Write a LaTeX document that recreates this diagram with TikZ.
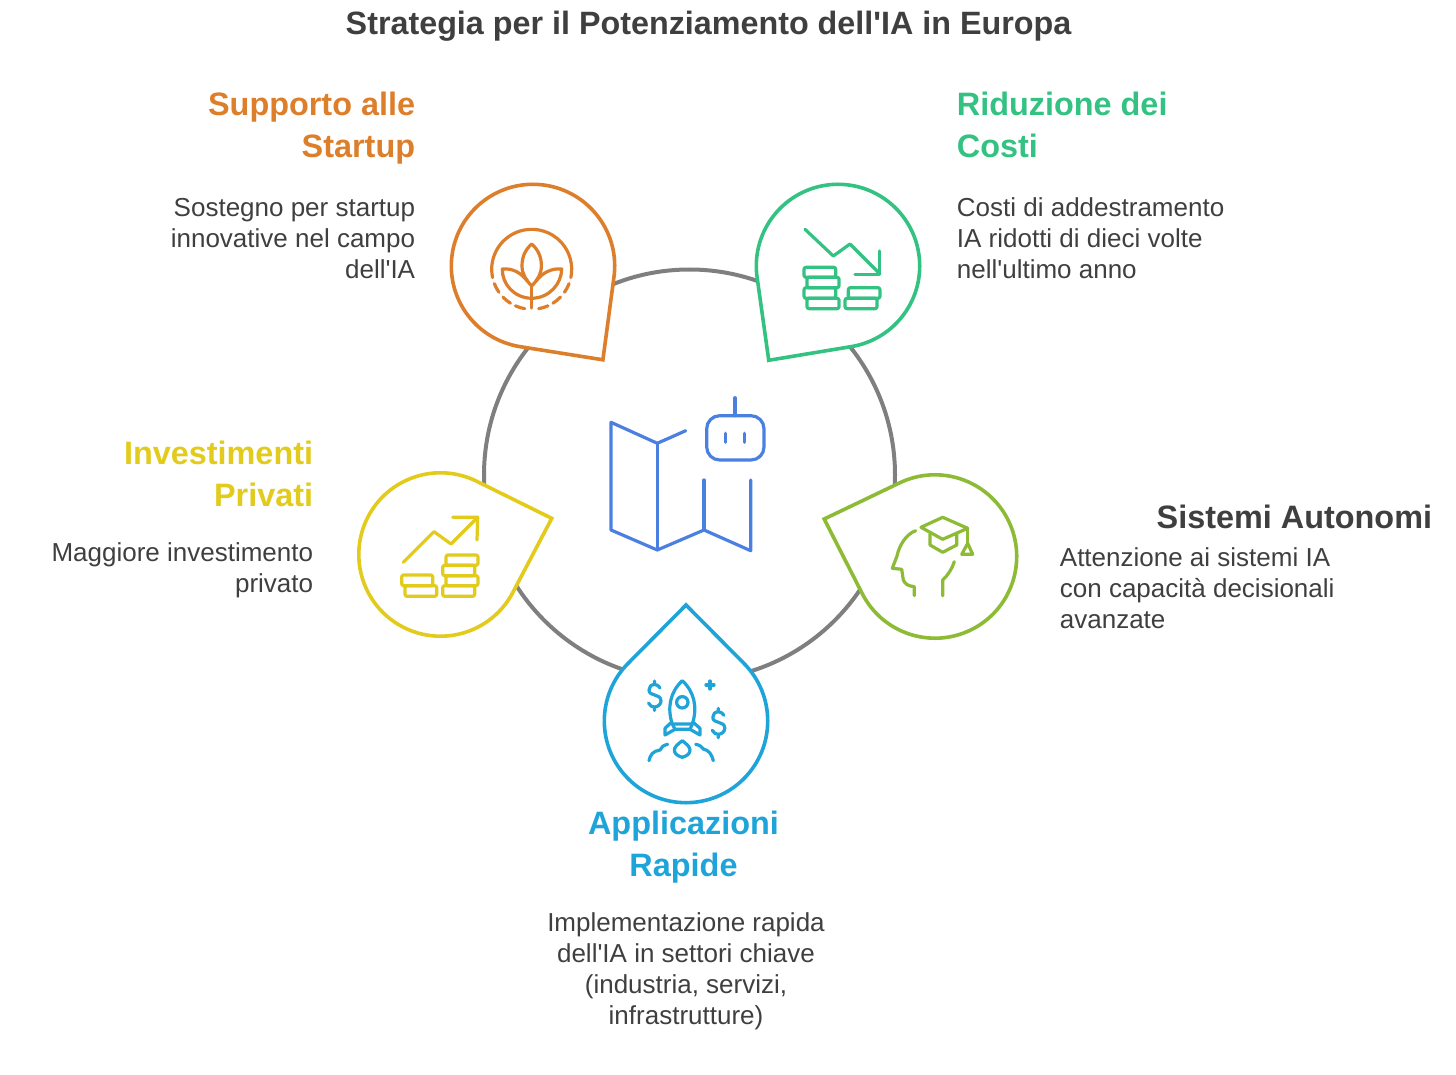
\documentclass[tikz,border=0pt]{standalone}
\usepackage{fontspec}
\setmainfont{Liberation Sans}
\definecolor{startupcol}{HTML}{DD7E2B}
\definecolor{costicol}{HTML}{34C283}
\definecolor{privaticol}{HTML}{E2CB1B}
\definecolor{autonomicol}{HTML}{8DBB35}
\definecolor{rapidecol}{HTML}{1EA4D9}
\definecolor{mapcol}{HTML}{4B80E0}
\definecolor{ringcol}{HTML}{7F7F7F}
\definecolor{textcol}{HTML}{3F3F3F}
\tikzset{
	pinline/.style = {line width = 1.8pt, fill = white},
	iconline/.style = {line width = 1.6pt, line cap = round, line join = round},
	coinbox/.style = {iconline, rounded corners = 1pt},
	titletext/.style = {font = \bfseries\fontsize{16.15}{20}\selectfont, text = textcol, inner sep = 0pt},
	headtext/.style = {font = \bfseries\fontsize{16.2}{20.75}\selectfont, inner sep = 0pt},
	bodytext/.style = {font = \fontsize{13}{15.5}\selectfont, text = textcol, inner sep = 0pt}
}
\begin{document}
\begin{tikzpicture}[x = 0.5pt, y = 0.5pt, yscale = -1]
	\useasboundingbox (0, 0) rectangle (1456, 1075);
	% title
	\node[titletext] (title) at (708.5, 26) {Strategia per il Potenziamento dell\textquotesingle IA in Europa};
	% the ring
	\draw[ringcol, line width = 2pt] (689.5, 475) circle (205.5);
	% the five pins
	\draw[startupcol, pinline, shift = {(533, 266)}, rotate = 53.3] (0:117) -- (45:81.7) arc[start angle = 45, end angle = 315, radius = 81.7] -- cycle;
	\draw[costicol, pinline, shift = {(838, 266)}, rotate = 126.3] (0:117) -- (45:81.7) arc[start angle = 45, end angle = 315, radius = 81.7] -- cycle;
	\draw[privaticol, pinline, shift = {(440.5, 554.5)}, rotate = -18] (0:117) -- (45:81.7) arc[start angle = 45, end angle = 315, radius = 81.7] -- cycle;
	\draw[autonomicol, pinline, shift = {(935, 556.5)}, rotate = -161.3] (0:117) -- (45:81.7) arc[start angle = 45, end angle = 315, radius = 81.7] -- cycle;
	\draw[rapidecol, pinline, shift = {(686, 721)}, rotate = -90] (0:116) -- (45:81.7) arc[start angle = 45, end angle = 315, radius = 81.7] -- cycle;
	% map and robot in the middle
	\draw[iconline, mapcol] (685.7, 430.7) -- (657.3, 443.3) -- (611, 422.3) -- (611, 530) -- (657.3, 550) -- (704, 530) -- (750.7, 550.7) -- (750.7, 480);
	\draw[iconline, mapcol] (657.3, 443.3) -- (657.3, 550);
	\draw[iconline, mapcol] (704, 530) -- (704, 480);
	\draw[iconline, mapcol, rounded corners = 6.5pt] (706.7, 415.7) rectangle (764, 460);
	\draw[iconline, mapcol] (735, 397.7) -- (735, 415.7);
	\draw[iconline, mapcol] (725.7, 433.3) -- (725.7, 442.3);
	\draw[iconline, mapcol] (744.7, 433.3) -- (744.7, 442.3);
	% plant
	\draw[iconline, startupcol] (531.7, 269.3) ++(168:40) arc[start angle = 168, end angle = 372, radius = 40];
	\draw[iconline, startupcol, shift = {(531.7, 269.3)}] (159:40) arc[start angle = 159, end angle = 145, radius = 40] (136:40) arc[start angle = 136, end angle = 122, radius = 40] (114:40) arc[start angle = 114, end angle = 100, radius = 40] (21:40) arc[start angle = 21, end angle = 35, radius = 40] (44:40) arc[start angle = 44, end angle = 58, radius = 40] (66:40) arc[start angle = 66, end angle = 80, radius = 40];
	\draw[iconline, startupcol] (531.7, 244) .. controls (525, 250) and (522, 257) .. (522, 266) .. controls (522, 274) and (526, 280) .. (531.7, 286) .. controls (537.4, 280) and (541.4, 274) .. (541.4, 266) .. controls (541.4, 257) and (538.4, 250) .. (531.7, 244);
	\draw[iconline, startupcol] (531.7, 308) -- (531.7, 286);
	\draw[iconline, startupcol] (527.3, 281) .. controls (521, 273) and (513, 268) .. (502.3, 269) .. controls (502, 284) and (514, 298) .. (531.7, 298.3) .. controls (549.4, 298) and (561.4, 284) .. (561.7, 269) .. controls (551, 268) and (542.4, 273) .. (536.1, 281);
	% coins with the falling line
	\draw[iconline, costicol] (805, 229.3) -- (833.3, 256) -- (850, 244) -- (880, 274);
	\draw[iconline, costicol] (879.3, 251) -- (879.3, 274.3) -- (855, 274.3);
	\draw[coinbox, costicol] (804, 267.3) rectangle (835.7, 277.3);
	\draw[coinbox, costicol] (807, 277.3) rectangle (839, 287.7);
	\draw[coinbox, costicol] (804, 287.7) rectangle (835.7, 298.3);
	\draw[coinbox, costicol] (807, 298.3) rectangle (839, 308.7);
	\draw[coinbox, costicol] (848.3, 287.7) rectangle (880, 298.3);
	\draw[coinbox, costicol] (845, 298.3) rectangle (877, 308.7);
	% coins with the rising line
	\draw[iconline, privaticol] (403.3, 562.3) -- (434, 531.7) -- (451, 544) -- (477.7, 517.3);
	\draw[iconline, privaticol] (452.7, 517.3) -- (477.7, 517.3) -- (477, 540);
	\draw[coinbox, privaticol] (401.7, 575) rectangle (432.7, 585.7);
	\draw[coinbox, privaticol] (405, 585.7) rectangle (436.7, 596.3);
	\draw[coinbox, privaticol] (446, 555) rectangle (478, 565.3);
	\draw[coinbox, privaticol] (442.7, 565.3) rectangle (474.7, 575.7);
	\draw[coinbox, privaticol] (446, 575.7) rectangle (478, 585.7);
	\draw[coinbox, privaticol] (442.7, 585.7) rectangle (474.7, 596.3);
	% head with the cap
	\draw[iconline, autonomicol] (921, 527.3) -- (942.7, 517.3) -- (967.7, 528.3) -- (942.7, 539.3) -- cycle;
	\draw[iconline, autonomicol] (930, 534) -- (930, 545) -- (942.7, 552.3) -- (956.7, 545) -- (956.7, 533.3);
	\draw[iconline, autonomicol] (967.7, 528.3) -- (967.7, 543.3);
	\draw[iconline, autonomicol] (967.7, 543.3) -- (961.7, 554.3) -- (972.7, 554.3) -- cycle;
	\draw[iconline, autonomicol] (915.7, 530.7) .. controls (906, 534) and (899, 546) .. (897, 556) -- (892.3, 568.3) -- (901.7, 569.3) -- (903.3, 580) .. controls (905, 584) and (908, 586) .. (914.3, 586.7) -- (914.3, 595.7);
	\draw[iconline, autonomicol] (954.3, 561.7) .. controls (952, 569) and (948, 575) .. (942.7, 580) -- (942.7, 595.7);
	% rocket
	\draw[iconline, rapidecol] (672.3, 724) .. controls (667, 708) and (670, 692) .. (682.3, 680.7) .. controls (694.6, 692) and (697.6, 708) .. (692.3, 724) -- cycle;
	\draw[iconline, rapidecol] (682.3, 702.3) circle (5.7);
	\draw[iconline, rapidecol] (672.3, 724) -- (675, 729.3) -- (690, 729.3) -- (692.3, 724);
	\draw[iconline, rapidecol] (671, 722.7) -- (665, 728.3) -- (665, 735) -- (675, 729.3);
	\draw[iconline, rapidecol] (693.6, 722.7) -- (700, 728.3) -- (700, 735) -- (690, 729.3);
	\draw[iconline, rapidecol] (682.3, 740.7) .. controls (678, 744) and (674.3, 747) .. (674.3, 750) .. controls (674.3, 754) and (678, 756) .. (682.3, 757.3) .. controls (686.6, 756) and (690, 754) .. (690, 750) .. controls (690, 747) and (686.6, 744) .. (682.3, 740.7);
	\draw[iconline, rapidecol] (649, 760.7) .. controls (650, 755) and (653, 751) .. (660, 750) .. controls (661, 747) and (664, 745) .. (667.7, 744.3);
	\draw[iconline, rapidecol] (695.7, 744.3) .. controls (700, 745) and (702, 747) .. (703.3, 749) .. controls (709, 750) and (712, 755) .. (713.3, 760.7);
	% dollars and the star
	\draw[iconline, rapidecol] (660, 688) .. controls (658, 685) and (656, 684.5) .. (654.5, 684.5) .. controls (651, 684.5) and (649, 687) .. (649, 690) .. controls (649, 697) and (661, 693) .. (661, 701) .. controls (661, 704) and (658, 707) .. (654.5, 707) .. controls (652, 707) and (650, 706) .. (648.5, 703) (654.5, 681) -- (654.5, 684.5) (654.5, 707) -- (654.5, 710.5);
	\draw[iconline, rapidecol, shift = {(63.8, 27.3)}] (660, 688) .. controls (658, 685) and (656, 684.5) .. (654.5, 684.5) .. controls (651, 684.5) and (649, 687) .. (649, 690) .. controls (649, 697) and (661, 693) .. (661, 701) .. controls (661, 704) and (658, 707) .. (654.5, 707) .. controls (652, 707) and (650, 706) .. (648.5, 703) (654.5, 681) -- (654.5, 684.5) (654.5, 707) -- (654.5, 710.5);
	\draw[iconline, rapidecol] (706, 685) -- (714, 685) (710, 681) -- (710, 689);
	% labels
	\node[headtext, startupcol, anchor = north east, align = right] (startuphead) at (415.5, 92) {Supporto alle\\Startup};
	\node[bodytext, anchor = north east, align = right] (startupbody) at (415.5, 198) {Sostegno per startup\\innovative nel campo\\dell\textquotesingle IA};
	\node[headtext, costicol, anchor = north west, align = left] (costihead) at (956.5, 92) {Riduzione dei\\Costi};
	\node[bodytext, anchor = north west, align = left] (costibody) at (956.5, 197) {Costi di addestramento\\IA ridotti di dieci volte\\nell\textquotesingle ultimo anno};
	\node[headtext, privaticol, anchor = north east, align = right] (privatihead) at (313.5, 441) {Investimenti\\Privati};
	\node[bodytext, anchor = north east, align = right] (privatibody) at (313.5, 542) {Maggiore investimento\\privato};
	\node[headtext, textcol, anchor = north east, align = right] (autonomihead) at (1432.5, 505) {Sistemi Autonomi};
	\node[bodytext, anchor = north west, align = left] (autonomibody) at (1059.5, 547) {Attenzione ai sistemi IA\\con capacità decisionali\\avanzate};
	\node[headtext, rapidecol, anchor = north, align = center] (rapidehead) at (683.5, 811) {Applicazioni\\Rapide};
	\node[bodytext, anchor = north, align = center] (rapidebody) at (686, 912) {Implementazione rapida\\dell\textquotesingle IA in settori chiave\\(industria, servizi,\\infrastrutture)};
\end{tikzpicture}
\end{document}
